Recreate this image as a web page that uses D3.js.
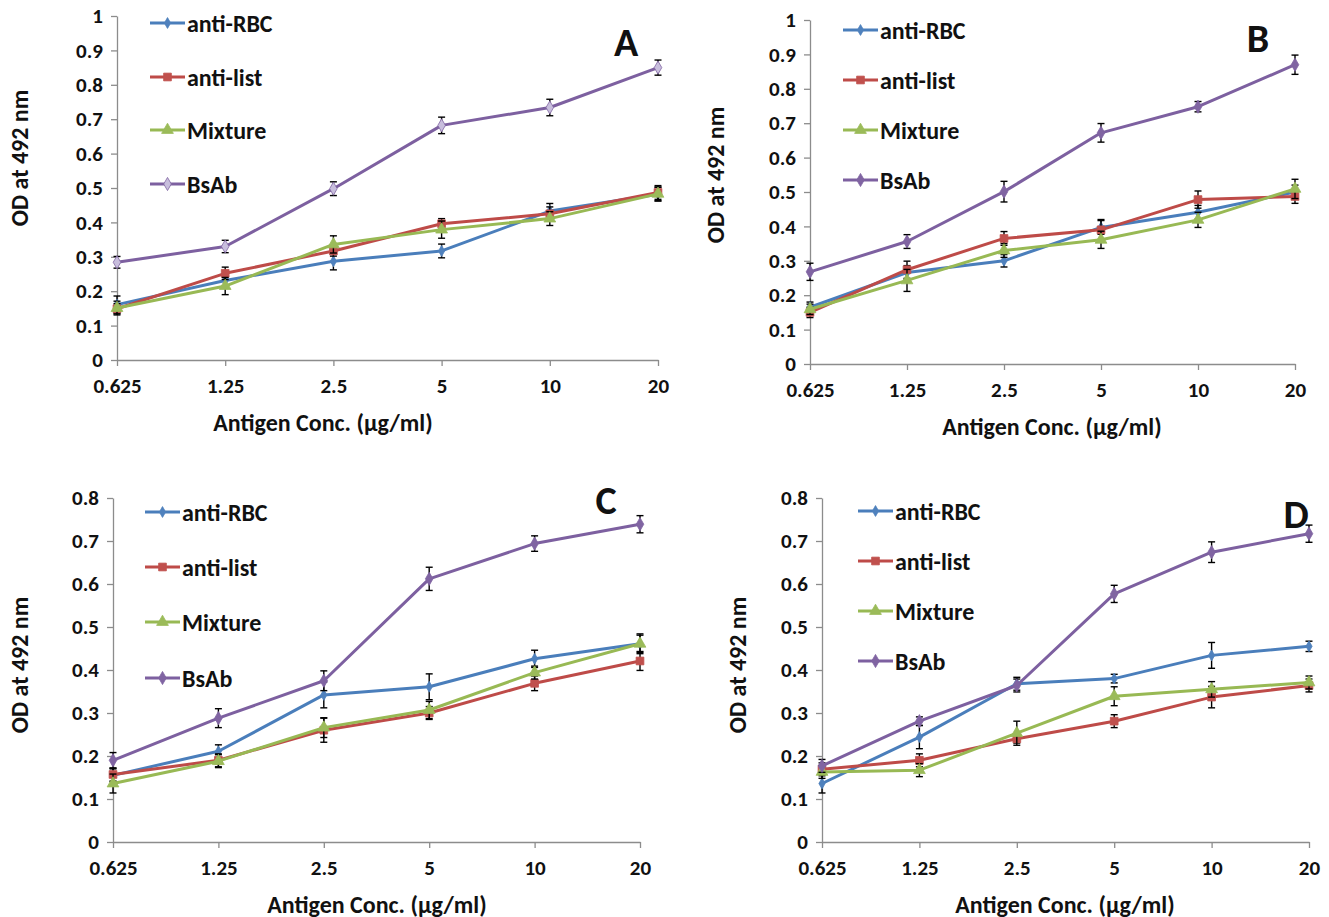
<!DOCTYPE html>
<html>
<head>
<meta charset="utf-8">
<script src="https://cdn.jsdelivr.net/npm/d3@7"></script>
<style>
  body { margin: 0; background: #fff; }
  text { font-family: Carlito, Calibri, Lato, sans-serif; font-weight: 700; fill: #111; }
  text.ticklab { font-size: 21px; }
</style>
</head>
<body>
<svg id="chart" width="1329" height="917"></svg>
<script>
// antigen concentrations (µg/ml), shown as categories
var concs = ['0.625', '1.25', '2.5', '5', '10', '20'];
var seriesNames = ['anti-RBC', 'anti-list', 'Mixture', 'BsAb'];

// OD at 492 nm, one row per series (anti-RBC, anti-list, Mixture, BsAb)
var valuesA = [
    [0.161, 0.231, 0.287, 0.317, 0.433, 0.482],
    [0.149, 0.252, 0.317, 0.396, 0.425, 0.487],
    [0.151, 0.215, 0.336, 0.379, 0.411, 0.483],
    [0.284, 0.330, 0.498, 0.682, 0.734, 0.850]
];
var errorsA = [
    [0.025, 0.020, 0.025, 0.020, 0.022, 0.020],
    [0.015, 0.018, 0.015, 0.015, 0.020, 0.020],
    [0.020, 0.025, 0.025, 0.025, 0.020, 0.020],
    [0.017, 0.018, 0.020, 0.024, 0.024, 0.022]
];

var valuesB = [
    [0.165, 0.266, 0.300, 0.397, 0.441, 0.500],
    [0.150, 0.274, 0.365, 0.390, 0.478, 0.487],
    [0.159, 0.243, 0.330, 0.361, 0.419, 0.509],
    [0.268, 0.356, 0.501, 0.672, 0.748, 0.870]
];
var errorsB = [
    [0.015, 0.020, 0.018, 0.020, 0.020, 0.020],
    [0.015, 0.025, 0.020, 0.030, 0.025, 0.020],
    [0.015, 0.032, 0.020, 0.025, 0.022, 0.028],
    [0.025, 0.020, 0.030, 0.027, 0.015, 0.028]
];

var valuesC = [
    [0.155, 0.211, 0.342, 0.361, 0.426, 0.461],
    [0.157, 0.190, 0.260, 0.300, 0.369, 0.421],
    [0.136, 0.188, 0.266, 0.307, 0.394, 0.461],
    [0.190, 0.288, 0.375, 0.612, 0.694, 0.739]
];
var errorsC = [
    [0.015, 0.015, 0.030, 0.030, 0.020, 0.020],
    [0.015, 0.015, 0.028, 0.015, 0.017, 0.022],
    [0.022, 0.015, 0.023, 0.020, 0.015, 0.023],
    [0.018, 0.022, 0.023, 0.027, 0.018, 0.020]
];

var valuesD = [
    [0.136, 0.244, 0.368, 0.380, 0.434, 0.455],
    [0.169, 0.190, 0.240, 0.281, 0.337, 0.364],
    [0.163, 0.167, 0.253, 0.339, 0.355, 0.371],
    [0.177, 0.281, 0.364, 0.577, 0.674, 0.717]
];
var errorsD = [
    [0.022, 0.027, 0.015, 0.010, 0.030, 0.012],
    [0.015, 0.015, 0.010, 0.015, 0.025, 0.015],
    [0.015, 0.015, 0.028, 0.022, 0.018, 0.015],
    [0.015, 0.010, 0.015, 0.020, 0.024, 0.020]
];

var yTicksTall = [0, 0.1, 0.2, 0.3, 0.4, 0.5, 0.6, 0.7, 0.8, 0.9, 1];
var yTicksShort = [0, 0.1, 0.2, 0.3, 0.4, 0.5, 0.6, 0.7, 0.8];

var lineColors = ['#4a7ebb', '#be4b48', '#98b954', '#7d60a0'];
var markerColors = ['#4f81bd', '#c0504d', '#9bbb59', '#8064a2'];
var markerShapes = [d3.symbolDiamond, d3.symbolSquare, d3.symbolTriangle, d3.symbolDiamond];
var markerSizes = [34, 60, 60, 50];

// layout for each panel
var panels = [
    { tag: 'A', values: valuesA, errors: errorsA, ticks: yTicksTall, ymax: 1,
      x0: 117, x1: 658, y0: 360, y1: 16, ytitle: 'OD at 492  nm', ytx: 22, yty: 158, xtx: 323,
      legX: 150, legY: [23, 77, 130, 184], tagX: 626, tagY: 42 },
    { tag: 'B', values: valuesB, errors: errorsB, ticks: yTicksTall, ymax: 1,
      x0: 810, x1: 1295, y0: 364, y1: 20, ytitle: 'OD at 492 nm', ytx: 718, yty: 175, xtx: 1052,
      legX: 843, legY: [30, 80, 130, 180], tagX: 1258, tagY: 38 },
    { tag: 'C', values: valuesC, errors: errorsC, ticks: yTicksShort, ymax: 0.8,
      x0: 113, x1: 640, y0: 842, y1: 498, ytitle: 'OD at 492 nm', ytx: 22, yty: 665, xtx: 377,
      legX: 145, legY: [512, 567, 622, 678], tagX: 606, tagY: 500 },
    { tag: 'D', values: valuesD, errors: errorsD, ticks: yTicksShort, ymax: 0.8,
      x0: 822, x1: 1309, y0: 842, y1: 498, ytitle: 'OD at 492 nm', ytx: 740, yty: 665, xtx: 1065,
      legX: 858, legY: [511, 561, 611, 661], tagX: 1296, tagY: 514 }
];

var svg = d3.select('#chart');
var axisColor = '#8c8c8c';

panels.forEach(function(p) {
    var g = svg.append('g');
    var x = d3.scalePoint().domain(concs).range([p.x0, p.x1]);
    var y = d3.scaleLinear().domain([0, p.ymax]).range([p.y0, p.y1]);

    var yAxis = g.append('g')
        .attr('transform', 'translate(' + p.x0 + ',0)')
        .call(d3.axisLeft(y).tickValues(p.ticks).tickSize(6).tickSizeOuter(0)
            .tickPadding(8).tickFormat(function(d) { return String(+d.toFixed(1)); }));
    var xAxis = g.append('g')
        .attr('transform', 'translate(0,' + p.y0 + ')')
        .call(d3.axisBottom(x).tickSize(6).tickSizeOuter(0).tickPadding(12));

    [yAxis, xAxis].forEach(function(a) {
        a.attr('font-size', null).attr('font-family', null);
        a.select('.domain').attr('stroke', axisColor).attr('stroke-width', 1.3);
        a.selectAll('.tick line').attr('stroke', axisColor).attr('stroke-width', 1.3);
        a.selectAll('.tick text').attr('class', 'ticklab').attr('fill', '#111');
    });

    // axis titles
    g.append('text')
        .attr('x', p.xtx)
        .attr('y', p.y0 + 62)
        .attr('text-anchor', 'middle')
        .attr('dominant-baseline', 'central')
        .style('font-size', '24px')
        .text('Antigen Conc. (µg/ml)');
    g.append('text')
        .attr('transform', 'translate(' + p.ytx + ',' + p.yty + ') rotate(-90)')
        .attr('text-anchor', 'middle')
        .attr('dominant-baseline', 'middle')
        .style('font-size', '24px')
        .text(p.ytitle);

    var line = d3.line()
        .x(function(d, i) { return x(concs[i]); })
        .y(function(d) { return y(d); });

    p.values.forEach(function(vals, s) {
        var errs = p.errors[s];
        g.append('path')
            .datum(vals)
            .attr('d', line)
            .attr('fill', 'none')
            .attr('stroke', lineColors[s])
            .attr('stroke-width', 3)
            .attr('stroke-linejoin', 'round');

        var eb = g.append('g').selectAll('g')
            .data(vals)
            .enter().append('g')
            .attr('stroke', '#000')
            .attr('stroke-width', 1.4);
        eb.append('line')
            .attr('x1', function(d, i) { return x(concs[i]); })
            .attr('x2', function(d, i) { return x(concs[i]); })
            .attr('y1', function(d, i) { return y(d - errs[i]); })
            .attr('y2', function(d, i) { return y(d + errs[i]); });
        [-1, 1].forEach(function(sign) {
            eb.append('line')
                .attr('x1', function(d, i) { return x(concs[i]) - 3.5; })
                .attr('x2', function(d, i) { return x(concs[i]) + 3.5; })
                .attr('y1', function(d, i) { return y(d + sign * errs[i]); })
                .attr('y2', function(d, i) { return y(d + sign * errs[i]); });
        });

        var fill = (p.tag === 'A' && s === 3) ? '#c8bedd' : markerColors[s];
        g.append('g').selectAll('path')
            .data(vals)
            .enter().append('path')
            .attr('transform', function(d, i) { return 'translate(' + x(concs[i]) + ',' + y(d) + ')'; })
            .attr('d', d3.symbol().type(markerShapes[s]).size(markerSizes[s]))
            .attr('fill', fill)
            .attr('stroke', markerColors[s])
            .attr('stroke-width', 0.8);
    });

    // legend
    seriesNames.forEach(function(name, s) {
        var ly = p.legY[s];
        g.append('line')
            .attr('x1', p.legX).attr('x2', p.legX + 35)
            .attr('y1', ly).attr('y2', ly)
            .attr('stroke', lineColors[s]).attr('stroke-width', 3);
        g.append('path')
            .attr('transform', 'translate(' + (p.legX + 17.5) + ',' + ly + ')')
            .attr('d', d3.symbol().type(markerShapes[s]).size(markerSizes[s]))
            .attr('fill', (p.tag === 'A' && s === 3) ? '#c8bedd' : markerColors[s])
            .attr('stroke', markerColors[s]).attr('stroke-width', 0.8);
        g.append('text')
            .attr('x', p.legX + 37)
            .attr('y', ly)
            .attr('dominant-baseline', 'central')
            .style('font-size', '24px')
            .text(name);
    });

    g.append('text')
        .attr('x', p.tagX)
        .attr('y', p.tagY)
        .attr('text-anchor', 'middle')
        .attr('dominant-baseline', 'central')
        .style('font-size', '40px')
        .text(p.tag);
});
</script>
</body>
</html>
